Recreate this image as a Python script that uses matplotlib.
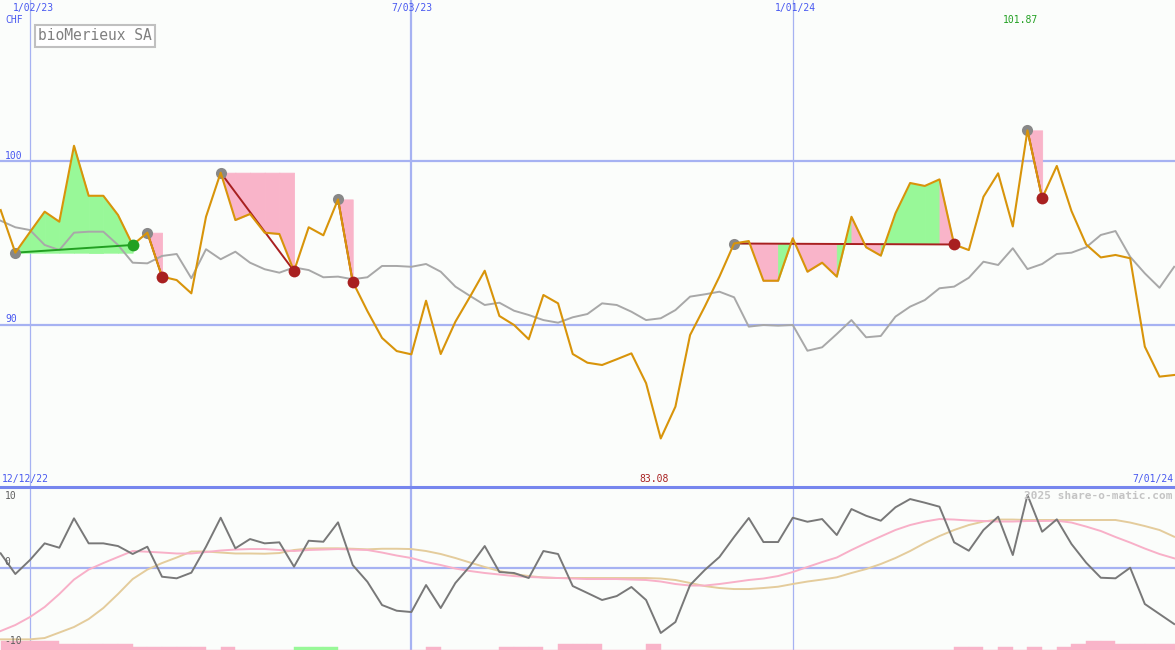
import matplotlib
matplotlib.use("Agg")
import matplotlib.pyplot as plt
import numpy as np
import pandas as pd

# === weekly data, 19 Dec 2022 .. 1 Jul 2024 ===
dates = pd.date_range("2022-12-19", "2024-07-01", freq="7D")

price = [97.01, 94.41, 95.67, 96.91, 96.30, 100.93, 97.88, 97.88, 96.71, 94.88,
         95.63, 92.95, 92.74, 91.93, 96.60, 99.29, 96.40, 96.77, 95.63, 95.55,
         93.29, 95.96, 95.47, 97.66, 92.64, 90.85, 89.21, 88.41, 88.21, 91.48,
         88.23, 90.20, 91.73, 93.31, 90.55, 90.00, 89.13, 91.83, 91.32, 88.23,
         87.70, 87.56, 87.91, 88.27, 86.45, 83.08, 85.02, 89.39, 91.12, 92.95,
         94.97, 95.12, 92.70, 92.70, 95.29, 93.25, 93.80, 92.95, 96.60, 94.74,
         94.23, 96.81, 98.66, 98.48, 98.88, 94.91, 94.57, 97.82, 99.25, 96.01,
         101.87, 97.74, 99.70, 96.95, 94.91, 94.12, 94.27, 94.07, 88.68, 86.85,
         86.95]

avg = [96.36, 95.96, 95.79, 94.88, 94.57, 95.63, 95.69, 95.69, 94.88, 93.80,
       93.76, 94.21, 94.33, 92.85, 94.62, 94.01, 94.47, 93.80, 93.40, 93.19,
       93.51, 93.35, 92.91, 92.95, 92.79, 92.91, 93.60, 93.60, 93.55, 93.72,
       93.25, 92.34, 91.77, 91.22, 91.36, 90.87, 90.61, 90.30, 90.14, 90.47,
       90.67, 91.32, 91.22, 90.81, 90.30, 90.41, 90.91, 91.73, 91.87, 92.03,
       91.69, 89.90, 90.00, 89.96, 90.00, 88.43, 88.64, 89.45, 90.30, 89.25,
       89.33, 90.51, 91.12, 91.52, 92.24, 92.34, 92.88, 93.86, 93.66, 94.68,
       93.41, 93.72, 94.33, 94.41, 94.74, 95.49, 95.73, 94.16, 93.15, 92.27,
       93.55]

osc = [2.01, -0.82, 1.10, 3.38, 2.78, 6.81, 3.38, 3.38, 3.01, 1.92,
       2.92, -1.19, -1.41, -0.64, 2.92, 6.89, 2.70, 3.97, 3.38, 3.52,
       0.18, 3.74, 3.60, 6.26, 0.41, -1.88, -5.07, -5.85, -6.03, -2.33,
       -5.48, -2.05, 0.27, 3.01, -0.55, -0.68, -1.37, 2.33, 1.92, -2.47,
       -3.42, -4.38, -3.84, -2.60, -4.38, -8.90, -7.40, -2.33, -0.27, 1.51,
       4.25, 6.85, 3.56, 3.56, 6.89, 6.34, 6.71, 4.52, 8.08, 7.16,
       6.48, 8.32, 9.45, 8.95, 8.40, 3.52, 2.37, 5.21, 7.03, 1.78,
       10.0, 4.97, 6.67, 3.29, 0.73, -1.33, -1.41, 0.04, -4.93, -6.30,
       -7.67]

osc_fast = [-8.63, -7.81, -6.71, -5.34, -3.56, -1.58, -0.21, 0.68, 1.51, 2.33,
            2.23, 2.12, 1.99, 1.99, 2.19, 2.40, 2.53, 2.60, 2.60, 2.47,
            2.33, 2.47, 2.53, 2.60, 2.53, 2.47, 2.12, 1.71, 1.37, 0.82,
            0.41, -0.07, -0.41, -0.68, -0.89, -1.10, -1.23, -1.30, -1.37, -1.44,
            -1.51, -1.51, -1.51, -1.58, -1.64, -1.85, -2.19, -2.40, -2.40, -2.19,
            -1.92, -1.64, -1.44, -1.10, -0.55, 0.14, 0.82, 1.44, 2.47, 3.42,
            4.32, 5.21, 5.89, 6.37, 6.71, 6.64, 6.51, 6.44, 6.37, 6.37,
            6.44, 6.44, 6.48, 6.23, 5.68, 5.07, 4.25, 3.49, 2.67, 1.92,
            1.33]

osc_slow = [-9.77, -9.77, -9.77, -9.59, -8.84, -8.08, -6.99, -5.48, -3.56, -1.51,
            -0.21, 0.68, 1.44, 2.26, 2.26, 2.12, 1.99, 1.99, 1.96, 2.05,
            2.47, 2.67, 2.70, 2.70, 2.64, 2.56, 2.64, 2.64, 2.60, 2.33,
            1.92, 1.37, 0.75, 0.14, -0.41, -0.82, -1.10, -1.30, -1.37, -1.37,
            -1.37, -1.37, -1.37, -1.37, -1.37, -1.44, -1.64, -2.05, -2.47, -2.74,
            -2.88, -2.88, -2.74, -2.56, -2.19, -1.85, -1.58, -1.27, -0.68, -0.14,
            0.55, 1.37, 2.33, 3.42, 4.38, 5.21, 5.89, 6.37, 6.64, 6.64,
            6.58, 6.58, 6.58, 6.58, 6.58, 6.58, 6.58, 6.23, 5.75, 5.21,
            4.29]

# strength bars at the bottom, negative = pink, positive = green
bars = [-3, -3, -3, -3, -2, -2, -2, -2, -2, -1,
        -1, -1, -1, -1, 0, -1, 0, 0, 0, 0,
        1, 1, 1, 0, 0, 0, 0, 0, 0, -1,
        0, 0, 0, 0, -1, -1, -1, 0, -2, -2,
        -2, 0, 0, 0, -2, 0, 0, 0, 0, 0,
        0, 0, 0, 0, 0, 0, 0, 0, 0, 0,
        0, 0, 0, 0, 0, -1, -1, 0, -1, 0,
        -1, 0, -1, -2, -3, -3, -2, -2, -2, -2,
        -2]

# trades: index of entry and exit week
entries = [1, 10, 15, 23, 50, 70]
exits = [9, 11, 20, 24, 65, 71]

# === colours ===
BG = "#fbfdfb"
GRID = "#a6b2f2"
BLUE_TXT = "#4858f0"
ORANGE = "#d8940a"
PINK = "#f9b4c9"
GREEN = "#98f898"
DARKRED = "#a82020"
DKGREEN = "#22a022"

W, H = 1175, 650
fig = plt.figure(figsize=(W / 100, H / 100), dpi=100, facecolor=BG)
split = 487
ax = fig.add_axes([0, (H - split) / H, 1, split / H], facecolor=BG)
ax2 = fig.add_axes([0, 0, 1, (H - split) / H], facecolor=BG)

x = dates
t0 = pd.Timestamp("2023-01-02")
xlim = (t0 - pd.Timedelta(days=14.31), t0 + pd.Timedelta(days=546.4))
for a in (ax, ax2):
    a.set_xlim(xlim)
    a.set_xticks([])
    a.set_yticks([])
    for s in a.spines.values():
        s.set_visible(False)
    a.axvline(pd.Timestamp("2023-01-02"), color=GRID, lw=0.9, zorder=0)
    a.axvline(pd.Timestamp("2023-07-03"), color=GRID, lw=1.6, zorder=0)
    a.axvline(pd.Timestamp("2024-01-01"), color=GRID, lw=0.9, zorder=0)

ax.set_ylim(80.12, 109.82)
ax2.set_ylim(-11.23, 11.10)

ax.axhline(100, color=GRID, lw=1.6, zorder=0)
ax.axhline(90, color=GRID, lw=1.6, zorder=0)
ax2.axhline(0, color=GRID, lw=1.6, zorder=0)

# === trade fills (one segment at a time, colour by where the week closes) ===
price_arr = np.array(price)
for e, x_ in zip(entries, exits):
    base = price[e]
    for i in range(e, x_):
        col = GREEN if price[i + 1] > base else PINK
        ax.fill_between(x[i:i + 2], price_arr[i:i + 2], base, facecolor=col,
                        edgecolor=col, lw=0.6, zorder=1)

ax.plot(x, avg, color="#a8a8a8", lw=1.4, zorder=2)
ax.plot(x, price, color=ORANGE, lw=1.5, zorder=4)

for e, x_ in zip(entries, exits):
    win = price[x_] > price[e]
    lc = DKGREEN if win else DARKRED
    ax.plot([x[e], x[x_]], [price[e], price[x_]], color=lc, lw=1.4, zorder=3)
    ax.plot(x[e], price[e], "o", color="#888888", ms=8, mew=0, zorder=3)
    ax.plot(x[x_], price[x_], "o", color=lc, ms=8.5, mew=0, zorder=5)

# === lower panel ===
unit = 3 / 7.3
bar_h = [abs(b) * unit for b in bars]
bar_c = [GREEN if b > 0 else PINK for b in bars]
ax2.bar(x, bar_h, bottom=-11.23, width=7, align="edge", color=bar_c,
        edgecolor=bar_c, lw=0.3, zorder=1)
ax2.plot(x, osc_slow, color="#e4cc9c", lw=1.4, zorder=2)
ax2.plot(x, osc_fast, color="#f8b0c8", lw=1.4, zorder=3)
ax2.plot(x, osc, color="#787878", lw=1.4, zorder=4)

# separator
fig.add_artist(plt.Line2D([0, 1], [(H - split) / H] * 2, color="#7686ee", lw=2.2))


# === text ===
def px(xp, yp):
    return xp / W, 1 - yp / H


mono = "DejaVu Sans Mono"
small = dict(family=mono, fontsize=7, va="center")
fig.text(*px(33, 8), "1/02/23", color=BLUE_TXT, ha="center", **small)
fig.text(*px(412, 8), "7/03/23", color=BLUE_TXT, ha="center", **small)
fig.text(*px(795, 8), "1/01/24", color=BLUE_TXT, ha="center", **small)
fig.text(*px(5, 20), "CHF", color=BLUE_TXT, ha="left", **small)
fig.text(*px(5, 156), "100", color=BLUE_TXT, ha="left", **small)
fig.text(*px(5, 319), "90", color=BLUE_TXT, ha="left", **small)
fig.text(*px(1020, 20), "101.87", color=DKGREEN, ha="center", **small)
fig.text(*px(2, 479), "12/12/22", color=BLUE_TXT, ha="left", **small)
fig.text(*px(654, 479), "83.08", color=DARKRED, ha="center", **small)
fig.text(*px(1173, 479), "7/01/24", color=BLUE_TXT, ha="right", **small)
fig.text(*px(5, 496), "10", color="#606060", ha="left", **small)
fig.text(*px(4, 562), "0", color="#606060", ha="left", **small)
fig.text(*px(4, 641), "-10", color="#606060", ha="left", **small)
fig.text(*px(1173, 496), "2025 share-o-matic.com", color="#c4c4c4",
         ha="right", va="center", family=mono, fontsize=8, fontweight="bold")

fig.text(*px(38, 36), "bioMerieux SA", color="#808080", ha="left", va="center",
         family=mono, fontsize=10.5,
         bbox=dict(boxstyle="square,pad=0.22", fc="white", ec="#c0c0c0", lw=1.5))

plt.savefig("out.png", dpi=100, facecolor=BG)
